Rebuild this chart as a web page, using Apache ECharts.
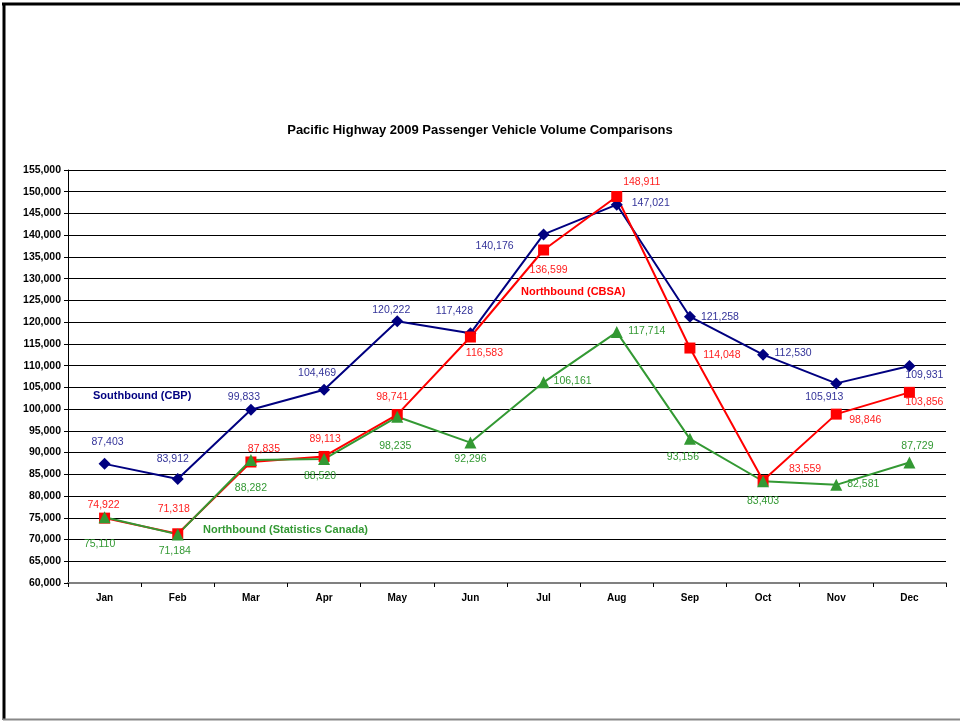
<!DOCTYPE html>
<html>
<head>
<meta charset="utf-8">
<script src="https://cdn.jsdelivr.net/npm/echarts@6/dist/echarts.min.js"></script>
<style>
  html, body { margin: 0; padding: 0; background: #fff; }
  #chart { width: 960px; height: 721px; }
</style>
</head>
<body>
<div id="chart"></div>
<script>
  var months = ['Jan', 'Feb', 'Mar', 'Apr', 'May', 'Jun', 'Jul', 'Aug', 'Sep', 'Oct', 'Nov', 'Dec'];
  var southboundCBP = [87403, 83912, 99833, 104469, 120222, 117428, 140176, 147021, 121258, 112530, 105913, 109931];
  var northboundCBSA = [74922, 71318, 87835, 89113, 98741, 116583, 136599, 148911, 114048, 83559, 98846, 103856];
  var northboundStatCan = [75110, 71184, 88282, 88520, 98235, 92296, 106161, 117714, 93156, 83403, 82581, 87729];
  var yMin = 60000, yMax = 155000, yStep = 5000;

  // where each value label sits relative to its point (px)
  var southOffsets = [[3, -22], [-5, -20], [-7, -13], [-7, -17], [-6, -11], [-16, -22], [-49, 12], [34, -2], [30, 0], [30, -2], [-12, 14], [15, 9]];
  var cbsaOffsets = [[-1, -13], [-4, -25], [13, -13], [1, -17], [-5, -17], [14, 16], [5, 20], [25, -14], [32, 7], [42, -11], [29, 6], [15, 10]];
  var statcanOffsets = [[-5, 27], [-3, 17], [0, 28], [-4, 17], [-2, 29], [0, 17], [29, -1], [30, -1], [-7, 18], [0, 20], [27, -1], [8, -16]];

  var font = 'Arial, "Liberation Sans", sans-serif';

  function fmt(v) {
    return String(v).replace(/\B(?=(\d{3})+(?!\d))/g, ',');
  }

  function withLabels(values, offsets) {
    return values.map(function (v, i) {
      return { value: v, label: { offset: offsets[i] } };
    });
  }

  function makeSeries(name, values, offsets, lineColor, labelColor, symbol, size) {
    return {
      name: name,
      type: 'line',
      data: withLabels(values, offsets),
      symbol: symbol,
      symbolSize: size,
      lineStyle: { color: lineColor, width: 2 },
      itemStyle: { color: lineColor },
      label: {
        show: true,
        position: 'inside',
        color: labelColor,
        fontFamily: font,
        fontSize: 10.5,
        formatter: function (p) { return fmt(p.value); }
      },
      emphasis: { disabled: true },
      animation: false
    };
  }

  var chart = echarts.init(document.getElementById('chart'));
  chart.setOption({
    backgroundColor: '#fff',
    title: {
      text: 'Pacific Highway 2009 Passenger Vehicle Volume Comparisons',
      left: 'center',
      top: 119,
      textStyle: { fontFamily: font, fontSize: 13, fontWeight: 'bold', color: '#000' }
    },
    grid: { left: 68, right: 14, top: 170, bottom: 138 },
    xAxis: {
      type: 'category',
      data: months,
      boundaryGap: true,
      axisLine: { lineStyle: { color: '#808080', width: 2 } },
      axisTick: { show: true, length: 4, lineStyle: { color: '#000' } },
      axisLabel: { fontFamily: font, fontSize: 10, fontWeight: 'bold', color: '#000', margin: 10 },
      splitLine: { show: false }
    },
    yAxis: {
      type: 'value',
      min: yMin,
      max: yMax,
      interval: yStep,
      axisLine: { show: true, lineStyle: { color: '#000', width: 1 } },
      axisTick: { show: true, length: 4, lineStyle: { color: '#000' } },
      axisLabel: {
        fontFamily: font, fontSize: 10.5, fontWeight: 'bold', color: '#000', margin: 7,
        formatter: function (v) { return fmt(v); }
      },
      splitLine: { show: true, lineStyle: { color: '#000', width: 1 } }
    },
    series: [
      makeSeries('Southbound (CBP)', southboundCBP, southOffsets, '#000080', '#333399', 'diamond', 12),
      makeSeries('Northbound (CBSA)', northboundCBSA, cbsaOffsets, '#ff0000', '#ff2020', 'rect', 11),
      makeSeries('Northbound (Statistics Canada)', northboundStatCan, statcanOffsets, '#339933', '#339933', 'triangle', 12)
    ],
    graphic: [
      // outer frame
      { type: 'line', shape: { x1: 2, y1: 4, x2: 960, y2: 4 }, style: { stroke: '#000', lineWidth: 3 } },
      { type: 'line', shape: { x1: 4, y1: 3, x2: 4, y2: 720 }, style: { stroke: '#000', lineWidth: 3 } },
      { type: 'line', shape: { x1: 3, y1: 719.5, x2: 960, y2: 719.5 }, style: { stroke: '#888', lineWidth: 2 } },
      // series name tags
      { type: 'text', left: 93, top: 390, style: { text: 'Southbound (CBP)', fill: '#000080', font: 'bold 11px ' + font } },
      { type: 'text', left: 521, top: 286, style: { text: 'Northbound (CBSA)', fill: '#ff0000', font: 'bold 11px ' + font } },
      { type: 'text', left: 203, top: 524, style: { text: 'Northbound (Statistics Canada)', fill: '#339933', font: 'bold 11px ' + font } }
    ]
  });
</script>
</body>
</html>
